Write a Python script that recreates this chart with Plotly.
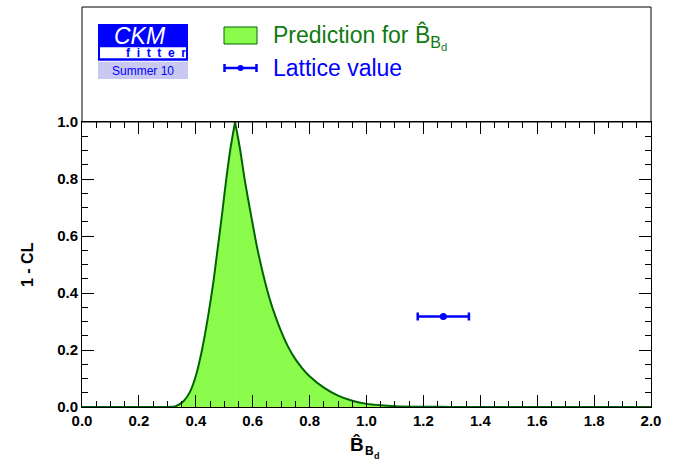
import plotly.graph_objects as go

# ---- data ----
# left (rising) branch and right (falling) branch of the prediction curve, meeting at the peak
rise_x = [0.0, 0.28, 0.30, 0.315, 0.327, 0.34, 0.356, 0.380, 0.401, 0.423, 0.444, 0.462,
          0.477, 0.492, 0.506, 0.522, 0.538]
rise_y = [0.0, 0.0, 0.0, 0.0005, 0.002, 0.008, 0.019, 0.054, 0.112, 0.206, 0.323, 0.440,
          0.557, 0.674, 0.791, 0.908, 1.0]
fall_x = [0.538, 0.555, 0.573, 0.594, 0.616, 0.643, 0.66, 0.678, 0.70, 0.725, 0.75, 0.775,
          0.80, 0.85, 0.90, 0.95, 1.0, 1.05, 1.1, 1.2, 1.3, 1.45, 2.0]
fall_y = [1.0, 0.908, 0.791, 0.674, 0.557, 0.440, 0.378, 0.323, 0.265, 0.210, 0.168, 0.135,
          0.108, 0.068, 0.040, 0.022, 0.011, 0.006, 0.003, 0.001, 0.0003, 0.0, 0.0]
lat_x = [1.27]
lat_y = [0.3173]
lat_err = [0.09]
x_ticks = [0.0, 0.2, 0.4, 0.6, 0.8, 1.0, 1.2, 1.4, 1.6, 1.8, 2.0]
y_ticks = [0.0, 0.2, 0.4, 0.6, 0.8, 1.0]

W, H = 683, 469
L, R, T, B = 82, 32, 122, 62
PW, PH = W - L - R, H - T - B

def px(x):
    return (x - L) / PW

def py(y):
    return (H - B - y) / PH

GREEN_FILL = "#8cfc4c"
GREEN_LINE = "#006400"
GREEN_TEXT = "#117a11"
BLUE = "#0000ff"
FONT = "Liberation Sans"

fig = go.Figure()
for xs, ys in ((rise_x, rise_y), (fall_x, fall_y)):
    fig.add_trace(go.Scatter(x=xs, y=ys, mode="lines", fill="tozeroy",
                             fillcolor=GREEN_FILL,
                             line=dict(color=GREEN_LINE, width=2, shape="spline",
                                       smoothing=0.7),
                             showlegend=False, hoverinfo="skip"))
fig.add_trace(go.Scatter(x=lat_x, y=lat_y, mode="markers",
                         marker=dict(color=BLUE, size=7),
                         error_x=dict(type="data", array=lat_err, color=BLUE,
                                      thickness=2.5, width=4),
                         showlegend=False))

axis_common = dict(showline=True, linecolor="black", linewidth=1, mirror="ticks",
                   ticks="inside", ticklen=12, tickwidth=1, tickcolor="black",
                   showgrid=False, zeroline=False,
                   tickfont=dict(family=FONT, size=15, color="black", weight="bold"),
                   minor=dict(ticks="inside", ticklen=6, tickwidth=1, tickcolor="black",
                              dtick=0.05, showgrid=False))

fig.update_xaxes(range=[0, 2], tickvals=x_ticks, ticktext=[f"{v:.1f}" for v in x_ticks],
                 **axis_common)
fig.update_yaxes(range=[0, 1], tickvals=y_ticks, ticktext=[f"{v:.1f}" for v in y_ticks],
                 **axis_common)

shapes = []
annotations = []

def note(text, x, y, size, color, xanchor="center", **kw):
    annotations.append(dict(text=text, x=px(x), y=py(y), xref="paper", yref="paper",
                            xanchor=xanchor, yanchor="middle", showarrow=False,
                            font=dict(family=FONT, size=size, color=color), **kw))

# upper frame box
shapes.append(dict(type="rect", xref="paper", yref="paper", x0=0, x1=1, y0=1, y1=py(7),
                   line=dict(color="black", width=1), fillcolor="rgba(0,0,0,0)"))

# CKM fitter logo
shapes.append(dict(type="rect", xref="paper", yref="paper", x0=px(98), x1=px(188),
                   y0=py(60.7), y1=py(24), line=dict(width=0), fillcolor=BLUE))
shapes.append(dict(type="rect", xref="paper", yref="paper", x0=px(100), x1=px(186),
                   y0=py(58.3), y1=py(47.3), line=dict(width=0), fillcolor="white"))
shapes.append(dict(type="rect", xref="paper", yref="paper", x0=px(98), x1=px(188),
                   y0=py(79), y1=py(61.7), line=dict(width=0), fillcolor="#c8c8f0"))
note("<i>CKM</i>", 140, 36, 23, "white")
note("<b>f  i  t  t  e  r</b>", 156, 53, 12, BLUE)
note("Summer 10", 143, 70.5, 12, BLUE)

# legend
shapes.append(dict(type="rect", xref="paper", yref="paper", x0=px(224), x1=px(257),
                   y0=py(44), y1=py(27), line=dict(color=GREEN_LINE, width=1),
                   fillcolor=GREEN_FILL))
note("Prediction for B\u0302<sub>B<sub>d</sub></sub>", 271, 37, 23, GREEN_TEXT, "left")
shapes.append(dict(type="line", xref="paper", yref="paper", x0=px(224), x1=px(257),
                   y0=py(68), y1=py(68), line=dict(color=BLUE, width=2.5)))
for xe in (224.5, 256.5):
    shapes.append(dict(type="line", xref="paper", yref="paper", x0=px(xe), x1=px(xe),
                       y0=py(64), y1=py(72), line=dict(color=BLUE, width=2.5)))
shapes.append(dict(type="circle", xref="paper", yref="paper", x0=px(237.5), x1=px(243.5),
                   y0=py(71), y1=py(65), line=dict(width=0), fillcolor=BLUE))
note("Lattice value", 271, 68, 23, BLUE, "left")

# axis titles
note("<b>1 - CL</b>", 27, 265, 16, "black", textangle=-90)
note("<b>B\u0302</b>", 366, 444, 19, "black", "right")
note("<b>B</b>", 363, 451, 12, "black", "left")
note("<b>d</b>", 372, 456, 9, "black", "left")

fig.update_layout(width=W, height=H, margin=dict(l=L, r=R, t=T, b=B),
                  plot_bgcolor="white", paper_bgcolor="white",
                  shapes=shapes, annotations=annotations,
                  font=dict(family=FONT))

fig.write_html("out.html")
